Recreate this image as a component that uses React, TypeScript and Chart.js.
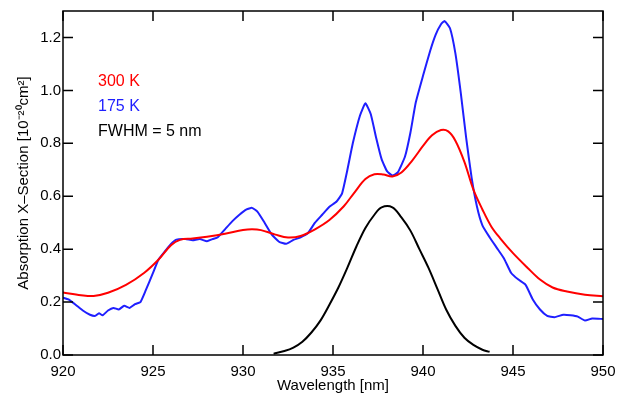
import React, { useEffect, useRef } from "react";
import { Chart, registerables } from "chart.js";

Chart.register(...registerables);

// 300 K cross-section (red)
const wl300 = [920, 921, 921.7, 922.5, 923.5, 924.5, 925.3, 926.0, 926.5, 927.2, 928, 929, 930, 930.5, 931, 931.8, 932.5, 933.2, 934, 934.8, 935.6, 936.2, 936.8, 937.3, 937.8, 938.3, 938.8, 939.4, 940, 940.5, 941, 941.4, 941.8, 942.3, 942.8, 943.3, 943.8, 944.3, 945, 945.8, 946.5, 947.2, 948, 949, 950];
const xs300 = [0.236, 0.226, 0.223, 0.235, 0.265, 0.31, 0.36, 0.415, 0.435, 0.44, 0.447, 0.458, 0.472, 0.475, 0.472, 0.455, 0.444, 0.45, 0.475, 0.51, 0.562, 0.615, 0.665, 0.683, 0.682, 0.675, 0.69, 0.735, 0.79, 0.83, 0.85, 0.845, 0.81, 0.73, 0.625, 0.55, 0.485, 0.44, 0.385, 0.33, 0.285, 0.255, 0.24, 0.228, 0.222];

// 175 K cross-section (blue)
const wl175 = [920, 920.3, 920.7, 921.1, 921.5, 921.8, 922.0, 922.2, 922.5, 922.8, 923.1, 923.4, 923.7, 924.0, 924.3, 924.6, 925.0, 925.3, 925.7, 926.0, 926.3, 926.8, 927.2, 927.6, 928.0, 928.3, 928.6, 929.0, 929.4, 929.8, 930.2, 930.5, 930.8, 931.2, 931.6, 932.0, 932.4, 932.8, 933.2, 933.6, 934.0, 934.4, 934.8, 935.2, 935.5, 935.8, 936.1, 936.5, 936.8, 937.1, 937.4, 937.7, 938.0, 938.3, 938.6, 939.0, 939.3, 939.6, 940.0, 940.4, 940.7, 941.0, 941.2, 941.5, 941.8, 942.1, 942.4, 942.7, 943.0, 943.3, 943.7, 944.1, 944.5, 944.9, 945.3, 945.7, 946.1, 946.5, 946.9, 947.3, 947.8, 948.2, 948.6, 949.0, 949.4, 950];
const xs175 = [0.217, 0.21, 0.19, 0.168, 0.152, 0.148, 0.158, 0.15, 0.168, 0.178, 0.172, 0.186, 0.178, 0.192, 0.2, 0.245, 0.31, 0.36, 0.395, 0.42, 0.436, 0.438, 0.434, 0.438, 0.43, 0.438, 0.445, 0.475, 0.505, 0.53, 0.55, 0.556, 0.542, 0.5, 0.455, 0.428, 0.42, 0.435, 0.445, 0.46, 0.5, 0.53, 0.56, 0.58, 0.61, 0.7, 0.8, 0.905, 0.951, 0.91, 0.82, 0.74, 0.695, 0.678, 0.69, 0.75, 0.84, 0.955, 1.055, 1.15, 1.21, 1.25, 1.262, 1.235, 1.14, 0.99, 0.82, 0.67, 0.56, 0.49, 0.445, 0.405, 0.365, 0.31, 0.285, 0.265, 0.21, 0.172, 0.148, 0.143, 0.152, 0.15, 0.145, 0.13, 0.138, 0.136];

// Instrument function, FWHM = 5 nm (black)
const wlSlit = [931.7, 932.3, 932.8, 933.3, 933.8, 934.3, 934.8, 935.3, 935.8, 936.3, 936.8, 937.3, 937.7, 938.3, 938.8, 939.3, 939.8, 940.3, 940.8, 941.3, 941.8, 942.3, 942.8, 943.3, 943.7];
const slit = [0.005, 0.015, 0.028, 0.05, 0.085, 0.13, 0.19, 0.255, 0.33, 0.41, 0.48, 0.53, 0.558, 0.558, 0.52, 0.47, 0.4, 0.33, 0.25, 0.17, 0.11, 0.065, 0.038, 0.02, 0.012];

const xTicks = [920, 925, 930, 935, 940, 945, 950];
const yTicks = [0, 0.2, 0.4, 0.6, 0.8, 1.0, 1.2];
const labels = [
  { text: "300 K", color: "#ff0000" },
  { text: "175 K", color: "#1f1fff" },
  { text: "FWHM = 5 nm", color: "#000000" },
];

const FONT = "'Liberation Sans', Arial, Helvetica, sans-serif";

export default function App() {
  const ref = useRef<HTMLCanvasElement>(null);

  useEffect(() => {
    if (!ref.current) return;
    const pts = (xs: number[], ys: number[]) => xs.map((x, i) => ({ x, y: ys[i] }));

    const framePlugin = {
      id: "frame",
      afterDatasetsDraw(chart: any) {
        const { ctx, chartArea: a, scales } = chart;
        ctx.save();
        ctx.strokeStyle = "#000";
        ctx.lineWidth = 1.5;
        ctx.strokeRect(a.left, a.top, a.right - a.left, a.bottom - a.top);
        const tl = 10;
        ctx.beginPath();
        xTicks.forEach((v) => {
          const px = scales.x.getPixelForValue(v);
          ctx.moveTo(px, a.bottom);
          ctx.lineTo(px, a.bottom - tl);
          ctx.moveTo(px, a.top);
          ctx.lineTo(px, a.top + tl);
        });
        yTicks.forEach((v) => {
          const py = scales.y.getPixelForValue(v);
          ctx.moveTo(a.left, py);
          ctx.lineTo(a.left + tl, py);
          ctx.moveTo(a.right, py);
          ctx.lineTo(a.right - tl, py);
        });
        ctx.stroke();
        ctx.font = `16px ${FONT}`;
        ctx.textBaseline = "middle";
        ctx.textAlign = "left";
        labels.forEach((l, i) => {
          ctx.fillStyle = l.color;
          ctx.fillText(l.text, a.left + 35, a.top + 70.5 + i * 25);
        });
        ctx.restore();
      },
    };

    const chart = new Chart(ref.current, {
      type: "line",
      data: {
        datasets: [
          { data: pts(wl300, xs300), borderColor: "#ff0000", borderWidth: 2, pointRadius: 0, tension: 0.35, fill: false },
          { data: pts(wl175, xs175), borderColor: "#1f1fff", borderWidth: 2, pointRadius: 0, tension: 0.15, fill: false },
          { data: pts(wlSlit, slit), borderColor: "#000000", borderWidth: 2, pointRadius: 0, tension: 0.35, fill: false },
        ],
      },
      options: {
        animation: false,
        responsive: true,
        maintainAspectRatio: false,
        layout: { padding: { top: 7, right: 22, left: 0, bottom: 0 } },
        plugins: { legend: { display: false }, tooltip: { enabled: false } },
        scales: {
          x: {
            type: "linear",
            min: 920,
            max: 950,
            grid: { display: false, drawTicks: false, tickLength: 0 },
            border: { display: false },
            ticks: { stepSize: 5, padding: 8, color: "#000", font: { family: FONT, size: 15 }, callback: (v: any) => String(v) },
            title: { display: true, text: "Wavelength [nm]", color: "#000", font: { family: FONT, size: 15 }, padding: { top: 0, bottom: 1 } },
            afterFit: (s: any) => { s.height = 41; },
          },
          y: {
            type: "linear",
            min: 0,
            max: 1.3,
            grid: { display: false, drawTicks: false, tickLength: 0 },
            border: { display: false },
            ticks: { stepSize: 0.2, includeBounds: false, padding: 2, color: "#000", font: { family: FONT, size: 15 }, callback: (v: any) => Number(v).toFixed(1) },
            afterBuildTicks: (s: any) => {
              s.ticks = s.ticks.filter((t: any) => Math.abs(t.value * 5 - Math.round(t.value * 5)) < 1e-6);
            },
            title: { display: true, text: "Absorption X\u2013Section [10\u207B\u00B2\u2070cm\u00B2]", color: "#000", font: { family: FONT, size: 15 }, padding: { top: 15, bottom: 0 } },
            afterFit: (s: any) => { s.width = 63; },
          },
        },
      },
      plugins: [framePlugin],
    } as any);
    return () => chart.destroy();
  }, []);

  return (
    <div style={{ position: "absolute", left: 0, top: 0, width: 625, height: 396, background: "#fff" }}>
      <canvas ref={ref} />
    </div>
  );
}
